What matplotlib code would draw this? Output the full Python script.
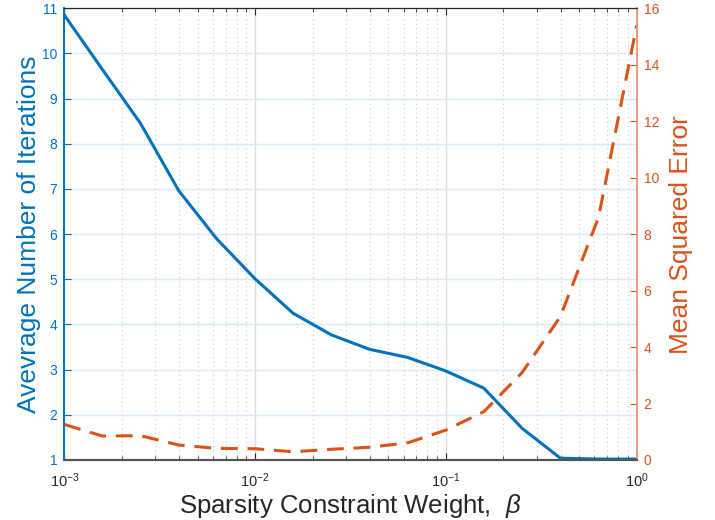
import numpy as np
import matplotlib
matplotlib.use("Agg")
import matplotlib.pyplot as plt
from matplotlib.ticker import LogLocator, NullFormatter

plt.rcParams["font.family"] = ["Liberation Sans", "DejaVu Sans"]
plt.rcParams["mathtext.fontset"] = "custom"
plt.rcParams["mathtext.rm"] = "Liberation Sans"
plt.rcParams["mathtext.it"] = "Liberation Sans:italic"

# sparsity weight beta (log spaced samples)
beta = [0.001, 0.00158, 0.00251, 0.00398, 0.00631, 0.01, 0.0158, 0.0251,
        0.0398, 0.0631, 0.1, 0.158, 0.251, 0.398, 0.631, 1.0]
avg_iters = [10.85, 9.65, 8.45, 6.96, 5.89, 5.01, 4.25, 3.77,
             3.45, 3.27, 2.97, 2.59, 1.70, 1.04, 1.02, 1.02]
mse = [1.26, 0.85, 0.86, 0.53, 0.41, 0.40, 0.29, 0.38,
       0.45, 0.61, 1.06, 1.71, 3.10, 5.08, 8.60, 15.40]

BLUE = "#0072BD"
ORANGE = "#D95319"
DARK = "#262626"

fig = plt.figure(figsize=(7.15, 5.2), dpi=100)
ax = fig.add_axes([0.09, 0.1154, 0.8005, 0.8686])
ax2 = ax.twinx()

ax.plot(beta, avg_iters, color=BLUE, linewidth=2.2, solid_joinstyle="miter")
ax2.plot(beta, mse, color=ORANGE, linewidth=2.2, linestyle=(0, (5.5, 3.2)))

ax.set_xscale("log")
ax.set_xlim(1e-3, 1)
ax.set_ylim(1, 11)
ax.set_yticks(range(1, 12))
ax2.set_ylim(0, 16)
ax2.set_yticks(range(0, 17, 2))

ax.xaxis.set_major_locator(LogLocator(base=10, numticks=10))
ax.xaxis.set_minor_locator(LogLocator(base=10, subs=np.arange(2, 10), numticks=20))
ax.xaxis.set_minor_formatter(NullFormatter())

# grids, MATLAB-like
ax.grid(which="major", axis="y", color="#dbe8f4", linewidth=1.0)
ax.grid(which="major", axis="x", color="#dadde2", linewidth=1.0)
ax.grid(which="minor", axis="x", color="#c8c8c8", linewidth=0.8, linestyle=(0, (1, 3)))
ax.set_axisbelow(True)

# ticks
ax.tick_params(axis="x", which="both", direction="in", top=True, colors=DARK,
               labelsize=10.5, pad=8)
ax.tick_params(axis="x", which="major", length=5, width=0.8)
ax.tick_params(axis="x", which="minor", length=3, width=0.6)
ax.tick_params(axis="y", direction="in", length=5, width=0.8, colors=BLUE,
               labelcolor=BLUE, labelsize=10, pad=5)
ax2.tick_params(axis="y", direction="in", length=5, width=0.8, colors=ORANGE,
                labelcolor=ORANGE, labelsize=10, pad=5)

for a in (ax, ax2):
    a.spines["top"].set_color(DARK)
    a.spines["bottom"].set_color("#555555")
    a.spines["bottom"].set_linewidth(1.5)
    a.spines["left"].set_color(BLUE)
    a.spines["left"].set_linewidth(1.2)
    a.spines["right"].set_color("#EE9A7A")
    a.spines["right"].set_linewidth(1.2)

ax.set_xlabel(r"Sparsity Constraint Weight,  $\beta$", fontsize=18.5, color=DARK)
ax.xaxis.label.set_va("baseline")
ax.xaxis.set_label_coords(0.5, -0.1165)
ax.set_ylabel("Avevrage Number of Iterations", fontsize=19, color=BLUE, labelpad=1)
ax2.set_ylabel("Mean Squared Error", fontsize=19, color=ORANGE, labelpad=7)

plt.savefig("out.png", dpi=100)
plt.close()
